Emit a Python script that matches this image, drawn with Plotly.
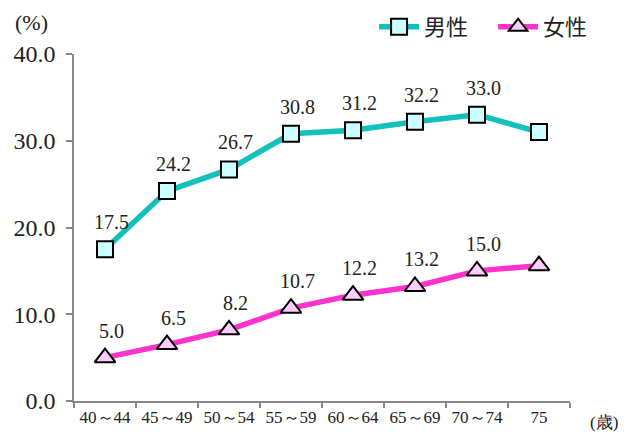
import plotly.graph_objects as go

# Age groups (years) and rates (%)
age_groups = ["40～44", "45～49", "50～54", "55～59", "60～64", "65～69", "70～74", "75"]
male = [17.5, 24.2, 26.7, 30.8, 31.2, 32.2, 33.0, 31.0]
female = [5.0, 6.5, 8.2, 10.7, 12.2, 13.2, 15.0, 15.6]
y_ticks = [0, 10, 20, 30, 40]

SERIF = "Liberation Serif"
GOTHIC = "Noto Sans CJK JP"
TEAL = "#12C0BC"
PINK = "#FF33CC"
INK = "#222222"

fig = go.Figure()
fig.add_trace(go.Scatter(
    x=age_groups, y=male, name="男性", mode="lines+markers",
    line=dict(color=TEAL, width=5.5),
    marker=dict(symbol="square", size=16, color="#CCFFFF",
                line=dict(color="black", width=2)),
    cliponaxis=False,
))
fig.add_trace(go.Scatter(
    x=age_groups, y=female, name="女性", mode="lines+markers",
    line=dict(color=PINK, width=5.5),
    marker=dict(symbol="triangle-up", size=18, color="#FFCCFF",
                line=dict(color="black", width=2)),
    cliponaxis=False,
))

# value labels above each point
annotations = []
for series in (male, female):
    for cat, v in zip(age_groups, series):
        annotations.append(dict(
            x=cat, y=v, xref="x", yref="y", text=f"{v:.1f}",
            showarrow=False, xshift=6, yshift=27,
            font=dict(family=SERIF, size=20, color=INK),
        ))

# unit labels
annotations.append(dict(
    x=0, xref="paper", xshift=-61, xanchor="left",
    y=1, yref="paper", yshift=32, yanchor="middle",
    text="(%)", showarrow=False,
    font=dict(family=SERIF, size=22, color=INK),
))
annotations.append(dict(
    x=1, xref="paper", xshift=18, xanchor="left",
    y=0, yref="paper", yshift=-21, yanchor="middle",
    text="(歳)", showarrow=False,
    font=dict(family=SERIF, size=17, color=INK),
))

fig.update_layout(
    width=627, height=432,
    margin=dict(l=74, r=57, t=54, b=31, autoexpand=False),
    paper_bgcolor="white", plot_bgcolor="white",
    showlegend=True,
    legend=dict(
        orientation="h", x=0.605, xanchor="left", y=1.078, yanchor="middle",
        font=dict(family=GOTHIC, size=22, color=INK),
        bgcolor="rgba(0,0,0,0)", itemwidth=40, tracegroupgap=0,
        entrywidth=64, entrywidthmode="pixels",
    ),
    annotations=annotations,
)

fig.update_xaxes(
    type="category", range=[-0.5, len(age_groups) - 0.5],
    showline=True, linecolor="#888888", linewidth=1.5,
    ticks="outside", ticklen=5, tickcolor="#888888", tickwidth=1.5,
    tickson="boundaries", showgrid=False, zeroline=False,
    tickangle=0,
    tickfont=dict(family=SERIF, size=17, color=INK),
)
fig.update_yaxes(
    range=[0, 40], tickvals=y_ticks, tickformat=".1f",
    showline=True, linecolor="#888888", linewidth=1.5,
    ticks="outside", ticklen=6, tickcolor="#888888", tickwidth=1.5,
    showgrid=False, zeroline=False,
    tickfont=dict(family=SERIF, size=24, color=INK),
    ticklabelstandoff=6,
)

fig.write_html("out.html")
